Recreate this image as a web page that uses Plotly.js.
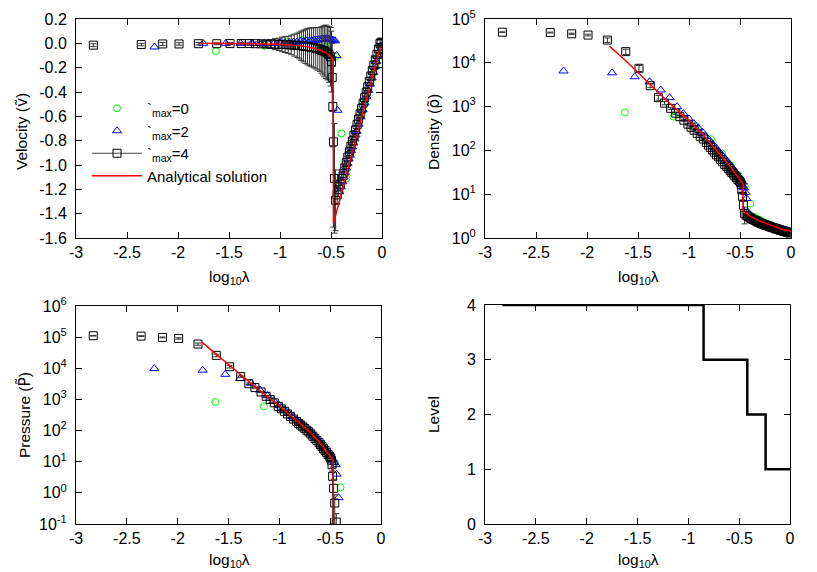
<!DOCTYPE html>
<html><head><meta charset="utf-8">
<script src="https://cdn.plot.ly/plotly-3.0.1.min.js"></script>
<style>html,body{margin:0;padding:0;background:#fff}#chart{width:817px;height:572px}</style>
</head><body><div id="chart"></div>
<script>
// ---------- tick labels ----------
const xTickVals = [-3, -2.5, -2, -1.5, -1, -0.5, 0];
const xTickText = ['-3', '-2.5', '-2', '-1.5', '-1', '-0.5', '0'];
const vTickVals = [0.2, 0, -0.2, -0.4, -0.6, -0.8, -1.0, -1.2, -1.4, -1.6];
const vTickText = ['0.2', '0.0', '-0.2', '-0.4', '-0.6', '-0.8', '-1.0', '-1.2', '-1.4', '-1.6'];
const dTickVals = [1, 10, 100, 1000, 10000, 100000];
const dTickText = ['10<sup>0</sup>', '10<sup>1</sup>', '10<sup>2</sup>', '10<sup>3</sup>', '10<sup>4</sup>', '10<sup>5</sup>'];
const pTickVals = [0.1, 1, 10, 100, 1000, 10000, 100000, 1000000];
const pTickText = ['10<sup>-1</sup>', '10<sup>0</sup>', '10<sup>1</sup>', '10<sup>2</sup>', '10<sup>3</sup>', '10<sup>4</sup>', '10<sup>5</sup>', '10<sup>6</sup>'];
const lTickVals = [0, 1, 2, 3, 4];
const lTickText = ['0', '1', '2', '3', '4'];

// ---------- series names ----------
const name0 = '`<sub>max</sub>=0';
const name2 = '`<sub>max</sub>=2';
const name4 = '`<sub>max</sub>=4';
const nameA = 'Analytical solution';

// ---------- lmax = 4 (black squares with error bars) ----------
const l4_x = [-2.83,-2.36,-2.15,-1.99,-1.80,-1.62,-1.49,-1.38,-1.30,-1.24,
  -1.18,-1.13,-1.09,-1.05,-1.01,-0.98,-0.95,-0.92,-0.89,-0.86,
  -0.83,-0.81,-0.79,-0.77,-0.75,-0.73,-0.71,-0.69,-0.67,-0.65,
  -0.63,-0.61,-0.595,-0.58,-0.565,-0.55,-0.535,-0.52,-0.505,-0.495,
  -0.488,-0.482,-0.476,-0.466,-0.455,-0.44,-0.425,-0.41,-0.395,-0.38,
  -0.365,-0.35,-0.335,-0.32,-0.305,-0.29,-0.275,-0.26,-0.245,-0.23,
  -0.215,-0.20,-0.185,-0.17,-0.155,-0.14,-0.125,-0.11,-0.095,-0.08,
  -0.065,-0.05,-0.035,-0.02,-0.008];
const l4_vel = [-0.015,-0.01,-0.005,-0.005,-0.003,-0.003,-0.002,-0.002,-0.002,-0.003,
  -0.004,-0.005,-0.006,-0.007,-0.008,-0.009,-0.010,-0.012,-0.013,-0.015,
  -0.017,-0.018,-0.02,-0.022,-0.025,-0.027,-0.03,-0.033,-0.036,-0.04,
  -0.045,-0.05,-0.055,-0.06,-0.065,-0.07,-0.08,-0.09,-0.11,-0.15,
  -0.28,-0.52,-0.81,-1.11,-1.29,-1.246,-1.201,-1.157,-1.112,-1.068,
  -1.024,-0.979,-0.935,-0.890,-0.846,-0.802,-0.757,-0.713,-0.668,-0.624,
  -0.580,-0.535,-0.491,-0.446,-0.402,-0.358,-0.313,-0.269,-0.224,-0.180,
  -0.136,-0.091,-0.047,-0.002,0.010];
const l4_velErr = [0.012,0.01,0.012,0.01,0.01,0.008,0.008,0.01,0.012,0.015,
  0.02,0.025,0.035,0.045,0.05,0.06,0.065,0.07,0.08,0.09,
  0.10,0.11,0.12,0.13,0.14,0.15,0.155,0.16,0.165,0.17,
  0.175,0.18,0.19,0.2,0.21,0.22,0.22,0.23,0.24,0.25,
  0.28,0.33,0.7,0.45,0.25,0.07,0.06,0.05,0.05,0.05,
  0.05,0.05,0.045,0.045,0.045,0.04,0.04,0.04,0.04,0.04,
  0.04,0.04,0.04,0.04,0.04,0.035,0.035,0.035,0.035,0.035,
  0.03,0.03,0.03,0.03,0.03];
const l4_den = [50000,49000,46000,43000,33000,18000,7500,3000,1600,1200,
  912,708,589,490,398,339,288,245,209,182,
  151,132,117,102,91,79,71,62,55,48,
  43,38,35,31.6,28.8,26.3,24,21.4,20,18.6,
  16.6,12.6,8.9,5.6,3.6,3.3,3.16,3.0,2.82,2.69,
  2.6,2.51,2.4,2.29,2.21,2.14,2.07,2.02,1.95,1.91,
  1.84,1.78,1.74,1.70,1.64,1.60,1.57,1.51,1.48,1.45,
  1.41,1.38,1.35,1.32,1.30];
const l4_denErr = [1000,1200,1500,2000,4000,2500,1200,300,200,100,
  50,40,30,25,20,18,15,12,10,9,
  8,7,6,5,5,4,4,3,3,3,
  2.5,2.5,2,2,2,1.5,1.5,1.5,1.5,1.5,
  1.5,1.5,1.5,1.5,1.5,0.15,0.15,0.15,0.15,0.15,
  0.15,0.15,0.15,0.15,0.15,0.12,0.12,0.12,0.12,0.12,
  0.12,0.12,0.12,0.12,0.12,0.1,0.1,0.1,0.1,0.1,
  0.1,0.1,0.1,0.1,0.1];
const l4_pre = [111000,108000,98000,91000,60000,26000,11200,5400,3200,2400,
  1740,1260,1000,780,600,500,417,340,282,234,
  195,170,151,132,117,102,91,78,66,56,
  48,41,35.5,31,26.3,22.9,20,17,14.8,13.2,
  11.2,8,3.4,1.4,0.47,0.115,null,null,null,null,
  null,null,null,null,null,null,null,null,null,null,
  null,null,null,null,null,null,null,null,null,null,
  null,null,null,null,null];
const l4_preErr = [3000,3000,3000,5000,5000,2500,1000,300,200,120,
  80,60,50,40,30,25,20,17,14,12,
  10,8.5,7.5,6.6,5.8,5.1,4.5,3.9,3.3,2.8,
  2.4,2.0,1.8,1.6,1.3,1.2,1.0,0.9,0.8,0.8,
  1.5,3,3.3,1.35,0.4,0.1,null,null,null,null,
  null,null,null,null,null,null,null,null,null,null,
  null,null,null,null,null,null,null,null,null,null,
  null,null,null,null,null];

// ---------- lmax = 2 (blue triangles) ----------
const l2_x = [-2.23,-1.754,-1.532,-1.386,-1.277,-1.19,-1.117,-1.055,-1.0,-0.952,
  -0.909,-0.869,-0.833,-0.80,-0.769,-0.74,-0.712,-0.687,-0.663,-0.64,
  -0.618,-0.598,-0.578,-0.559,-0.541,-0.523,-0.507,-0.491,-0.475,-0.46,
  -0.446,-0.437,-0.418,-0.404,-0.39,-0.377,-0.364,-0.352,-0.339,-0.327,
  -0.316,-0.304,-0.293,-0.282,-0.271,-0.26,-0.25,-0.23,-0.21,-0.19,
  -0.171,-0.153,-0.136,-0.119,-0.102,-0.086,-0.071,-0.056,-0.041,-0.027,-0.013];
const l2_vel = [-0.03,0.0,0.0,0.0,0.0,0.0,0.0,0.0,0.003,0.005,
  0.007,0.01,0.012,0.015,0.017,0.02,0.02,0.022,0.025,0.027,
  0.03,0.033,0.035,0.037,0.038,0.036,0.033,0.03,0.025,0.02,
  -0.10,-0.55,-1.22,-1.179,-1.138,-1.099,-1.061,-1.025,-0.987,-0.951,
  -0.919,-0.883,-0.85,-0.818,-0.785,-0.753,-0.723,-0.664,-0.605,-0.546,
  -0.489,-0.436,-0.386,-0.335,-0.285,-0.238,-0.193,-0.149,-0.105,-0.063,-0.022];
const l2_den = [6500,5900,4800,3700,2400,1600,1000,692,525,407,
  324,263,209,170,141,117,98,83,72,62,
  54,47,41,35.5,31.6,27.5,24.5,21.9,19,14,
  11,8,3.8,3.16,3.02,2.92,2.82,2.72,2.63,2.54,
  2.48,2.40,2.34,2.29,2.24,2.19,2.14,2.04,1.97,1.91,
  1.84,1.78,1.74,1.68,1.64,1.60,1.57,1.53,1.50,1.46,1.43];
const l2_pre = [9800,8700,6400,4700,3300,2000,1320,910,645,468,
  355,275,219,178,148,123,102,85,71,58,
  48,41,34,28,23.4,20,17,14.5,12,9.5,
  8,4,0.7,null,null,null,null,null,null,null,
  null,null,null,null,null,null,null,null,null,null,
  null,null,null,null,null,null,null,null,null,null,null];

// ---------- lmax = 0 (green circles) ----------
const l0_x = [-1.629,-1.152,-0.930,-0.784,-0.675,-0.588,-0.515,-0.453,-0.398,-0.350,
  -0.307,-0.267,-0.231,-0.198,-0.167,-0.138,-0.111,-0.085,-0.061,-0.038,-0.016];
const l0_vel = [-0.065,-0.02,0.01,0.025,0.02,0.015,0.005,-0.11,-0.74,-1.11,
  -0.90,-0.78,-0.68,-0.58,-0.49,-0.40,-0.32,-0.245,-0.17,-0.105,-0.03];
const l0_den = [740,590,360,180,85,45,27,15.5,6.1,3.0,
  2.6,2.3,2.1,1.95,1.82,1.72,1.63,1.55,1.48,1.42,1.36];
const l0_pre = [830,600,420,165,76,36,17,9,1.5,null,
  null,null,null,null,null,null,null,null,null,null,null];

// ---------- analytical solution (red) ----------
const an_vx = [-1.78,-1.5,-1.25,-1.0,-0.9,-0.8,-0.7,-0.65,-0.6,-0.55,-0.52,-0.5,-0.485,-0.478,-0.476,-0.3,-0.016];
const an_vel = [0,0,-0.003,-0.008,-0.013,-0.02,-0.035,-0.045,-0.058,-0.078,-0.095,-0.11,-0.13,-0.16,-1.48,-0.925,-0.03];
const an_dx = [-1.78,-1.6,-1.4,-1.2,-1.0,-0.85,-0.7,-0.6,-0.5,-0.472,-0.47,-0.4,-0.3,-0.2,-0.1,0];
const an_den = [24000,10000,3550,1260,479,214,83,44,21.4,17.4,4.07,3.16,2.40,1.95,1.62,1.41];
const an_px = [-1.76,-1.6,-1.42,-1.25,-1.03,-0.85,-0.7,-0.6,-0.5,-0.47,-0.468];
const an_pre = [67600,24500,7760,2750,741,234,91.2,39.8,15.1,11.2,0.001];

// ---------- refinement level ----------
const lev_x = [-2.83, -0.85, -0.42, -0.24, 0];
const lev_y = [4, 3, 2, 1, 1];

// ---------- styles ----------
const FONT = 'Liberation Sans, Arial, Helvetica, sans-serif';
const GREEN = '#00ff00', BLUE = '#0000ff', BLACK = '#000000', RED = '#ff0000';
const mk0 = {symbol: 'circle-open', size: 7, color: GREEN, line: {width: 1, color: GREEN}};
const mk2 = {symbol: 'triangle-up-open', size: 8, color: BLUE, line: {width: 1, color: BLUE}};
const mk4 = {symbol: 'square-open', size: 8, color: BLACK, line: {width: 1, color: BLACK}};
const errStyle = arr => ({type: 'data', array: arr, visible: true, color: '#333', thickness: 1, width: 3});
const redLine = {color: RED, width: 1.5};

const panels = [
  {xa: 'x', ya: 'y', y0: l0_vel, y2: l2_vel, y4: l4_vel, e4: l4_velErr, ax: an_vx, ay: an_vel, leg: true},
  {xa: 'x2', ya: 'y2', y0: l0_den, y2: l2_den, y4: l4_den, e4: l4_denErr, ax: an_dx, ay: an_den, leg: false},
  {xa: 'x3', ya: 'y3', y0: l0_pre, y2: l2_pre, y4: l4_pre, e4: l4_preErr, ax: an_px, ay: an_pre, leg: false}
];

const traces = [];
panels.forEach(p => {
  traces.push({x: l0_x, y: p.y0, xaxis: p.xa, yaxis: p.ya, mode: 'markers', name: name0, marker: mk0, showlegend: p.leg, legendgroup: 'g0', cliponaxis: true});
  traces.push({x: l2_x, y: p.y2, xaxis: p.xa, yaxis: p.ya, mode: 'markers', name: name2, marker: mk2, showlegend: p.leg, legendgroup: 'g2', cliponaxis: true});
  traces.push({x: l4_x, y: p.y4, xaxis: p.xa, yaxis: p.ya, mode: 'markers', name: name4, marker: mk4, error_y: errStyle(p.e4), showlegend: false, legendgroup: 'g4', cliponaxis: true});
  if (p.leg) {
    // legend glyph for the error-bar series (marker + horizontal bar)
    traces.push({x: [null], y: [null], xaxis: p.xa, yaxis: p.ya, mode: 'lines+markers', name: name4, marker: mk4, line: {color: '#444', width: 1}, showlegend: true, legendgroup: 'g4'});
  }
  traces.push({x: p.ax, y: p.ay, xaxis: p.xa, yaxis: p.ya, mode: 'lines', name: nameA, line: redLine, showlegend: p.leg, legendgroup: 'ga', cliponaxis: true});
});
traces.push({x: lev_x, y: lev_y, xaxis: 'x4', yaxis: 'y4', mode: 'lines', line: {shape: 'hv', color: BLACK, width: 2.5}, showlegend: false, name: 'Level'});

const W = 817, H = 572;
const dx = (a, b) => [a / W, b / W];
const dy = (top, bot) => [(H - bot) / H, (H - top) / H];

const baseAxis = {
  showline: true, linecolor: BLACK, linewidth: 1, mirror: 'allticks',
  ticks: 'inside', ticklen: 6, tickwidth: 1, tickcolor: BLACK,
  showgrid: false, zeroline: false, ticklabelstandoff: 5,
  tickfont: {family: FONT, size: 16, color: BLACK}
};
const xAx = (dom, anchor) => Object.assign({}, baseAxis, {domain: dom, anchor: anchor, range: [-3, 0], tickmode: 'array', tickvals: xTickVals, ticktext: xTickText, ticklabelstandoff: 0});

const TF = {family: FONT, size: 15.5, color: BLACK};
const TILDE = s => '<span style="font-family:DejaVu Sans">' + s + '</span>';
const layout = {
  width: W, height: H,
  margin: {l: 0, r: 0, t: 0, b: 0},
  paper_bgcolor: '#fff', plot_bgcolor: '#fff',
  font: {family: FONT, size: 15, color: BLACK},
  showlegend: true,
  legend: {x: 87 / W, y: (H - 92) / H, xanchor: 'left', yanchor: 'top', bgcolor: 'rgba(0,0,0,0)', borderwidth: 0,
           font: {family: FONT, size: 15, color: BLACK}, itemwidth: 50, tracegroupgap: 0},
  xaxis: xAx(dx(76, 382), 'y'),
  yaxis: Object.assign({}, baseAxis, {domain: dy(19, 238), anchor: 'x', range: [-1.6, 0.2], tickmode: 'array', tickvals: vTickVals, ticktext: vTickText}),
  xaxis2: xAx(dx(485, 791), 'y2'),
  yaxis2: Object.assign({}, baseAxis, {domain: dy(19, 238), anchor: 'x2', type: 'log', range: [0, 5], tickmode: 'array', tickvals: dTickVals, ticktext: dTickText}),
  xaxis3: xAx(dx(76, 381), 'y3'),
  yaxis3: Object.assign({}, baseAxis, {domain: dy(306, 524), anchor: 'x3', type: 'log', range: [-1, 6], tickmode: 'array', tickvals: pTickVals, ticktext: pTickText}),
  xaxis4: xAx(dx(485, 790), 'y4'),
  yaxis4: Object.assign({}, baseAxis, {domain: dy(305, 524), anchor: 'x4', range: [0, 4], tickmode: 'array', tickvals: lTickVals, ticktext: lTickText}),
  annotations: [
    {text: 'log<sub>10</sub>λ', xref: 'paper', yref: 'paper', x: 229 / W, y: (H - 277) / H, xanchor: 'center', yanchor: 'middle', showarrow: false, font: TF},
    {text: 'log<sub>10</sub>λ', xref: 'paper', yref: 'paper', x: 638 / W, y: (H - 277) / H, xanchor: 'center', yanchor: 'middle', showarrow: false, font: TF},
    {text: 'log<sub>10</sub>λ', xref: 'paper', yref: 'paper', x: 229 / W, y: (H - 560) / H, xanchor: 'center', yanchor: 'middle', showarrow: false, font: TF},
    {text: 'log<sub>10</sub>λ', xref: 'paper', yref: 'paper', x: 638 / W, y: (H - 560) / H, xanchor: 'center', yanchor: 'middle', showarrow: false, font: TF},
    {text: 'Velocity (' + TILDE('ṽ') + ')', xref: 'paper', yref: 'paper', x: 22 / W, y: (H - 132) / H, xanchor: 'center', yanchor: 'middle', textangle: -90, showarrow: false, font: TF},
    {text: 'Density (' + TILDE('ρ̃') + ')', xref: 'paper', yref: 'paper', x: 434 / W, y: (H - 132) / H, xanchor: 'center', yanchor: 'middle', textangle: -90, showarrow: false, font: TF},
    {text: 'Pressure (' + TILDE('P̃') + ')', xref: 'paper', yref: 'paper', x: 24 / W, y: (H - 415) / H, xanchor: 'center', yanchor: 'middle', textangle: -90, showarrow: false, font: TF},
    {text: 'Level', xref: 'paper', yref: 'paper', x: 433 / W, y: (H - 415) / H, xanchor: 'center', yanchor: 'middle', textangle: -90, showarrow: false, font: TF}
  ]
};

Plotly.newPlot('chart', traces, layout, {staticPlot: true, displayModeBar: false});
</script></body></html>
